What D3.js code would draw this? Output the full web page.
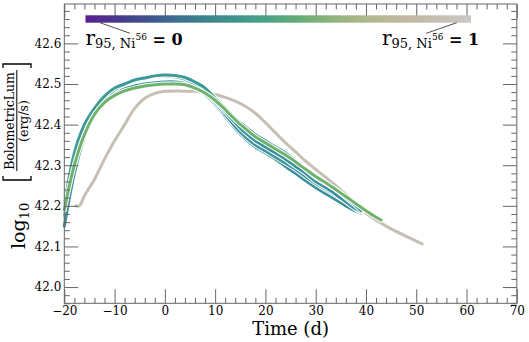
<!DOCTYPE html>
<html>
<head>
<meta charset="utf-8">
<script src="https://cdn.jsdelivr.net/npm/d3@7"></script>
<style>
  body { margin: 0; background: #fff; }
  svg { display: block; }
  text { font-family: "DejaVu Serif", serif; fill: #000; }
</style>
</head>
<body>
<svg id="chart" width="529" height="342"></svg>
<script>
// ---- data ----
const xTicks = [-20, -10, 0, 10, 20, 30, 40, 50, 60, 70];
const yTicks = [42.0, 42.1, 42.2, 42.3, 42.4, 42.5, 42.6];

const timeTeal = [-20, -18, -16, -14, -12, -10, -8, -6, -4, -2, 0, 2, 4, 6, 8, 10, 12, 14, 16, 18, 20,
                  22, 24, 26, 28, 30, 32, 34, 36, 38, 39];
const lumTealA = [42.20, 42.33, 42.40, 42.44, 42.47, 42.49, 42.50, 42.51, 42.515, 42.52, 42.522, 42.521,
                  42.516, 42.505, 42.49, 42.465, 42.44, 42.415, 42.395, 42.375, 42.36, 42.345, 42.33,
                  42.31, 42.29, 42.27, 42.255, 42.24, 42.22, 42.20, 42.188];
const lumTealB = [42.15, 42.28, 42.37, 42.43, 42.465, 42.485, 42.50, 42.51, 42.515, 42.52, 42.52, 42.518,
                  42.512, 42.50, 42.485, 42.46, 42.432, 42.405, 42.38, 42.36, 42.345, 42.33, 42.315,
                  42.297, 42.28, 42.26, 42.245, 42.228, 42.21, 42.192, 42.185];
const lumTealC = [42.17, 42.30, 42.38, 42.43, 42.46, 42.478, 42.488, 42.495, 42.50, 42.503, 42.505, 42.505,
                  42.502, 42.495, 42.48, 42.455, 42.425, 42.395, 42.37, 42.35, 42.335, 42.32, 42.305,
                  42.29, 42.272, 42.255, 42.24, 42.225, 42.21, 42.193, 42.185];
const lumTealD = [42.16, 42.29, 42.375, 42.425, 42.458, 42.476, 42.486, 42.493, 42.498, 42.50, 42.501, 42.50,
                  42.497, 42.49, 42.475, 42.45, 42.42, 42.39, 42.365, 42.345, 42.33, 42.315, 42.297,
                  42.28, 42.262, 42.245, 42.23, 42.215, 42.20, 42.187, 42.182];

const timeGreen = [-20, -18, -16, -14, -12, -10, -8, -6, -4, -2, 0, 2, 4, 6, 8, 10, 12, 14, 16, 18, 20,
                   22, 24, 26, 28, 30, 32, 34, 36, 38, 40, 42, 43];
const lumGreen = [42.19, 42.30, 42.375, 42.425, 42.455, 42.472, 42.483, 42.49, 42.495, 42.498, 42.50, 42.50,
                  42.498, 42.49, 42.478, 42.46, 42.437, 42.412, 42.39, 42.37, 42.355, 42.34, 42.325,
                  42.308, 42.29, 42.272, 42.257, 42.24, 42.223, 42.205, 42.188, 42.172, 42.165];

const timeGray = [-17.7, -17, -16, -15, -14, -13, -12, -11, -10, -8, -6, -4, -2, 0, 2, 4, 6, 8, 10, 12, 14,
                  16, 18, 20, 22, 24, 26, 28, 30, 32, 34, 36, 38, 40, 42, 44, 46, 48, 50, 51.2];
const lumGray = [42.20, 42.20, 42.225, 42.245, 42.265, 42.29, 42.315, 42.338, 42.36, 42.40, 42.44, 42.465,
                 42.477, 42.482, 42.483, 42.482, 42.482, 42.479, 42.474, 42.467, 42.458, 42.445, 42.428,
                 42.405, 42.38, 42.355, 42.333, 42.31, 42.29, 42.27, 42.25, 42.228, 42.205, 42.182,
                 42.165, 42.15, 42.137, 42.125, 42.113, 42.106];

// colour map of the r95 bar (purple -> teal -> green -> grey)
const cmapStops = ["#5b1e8e", "#463a8c", "#3e5a8e", "#3c7a8e", "#3e8f8c", "#47a088", "#62ab76",
                   "#8db47a", "#b0b88e", "#c0b8a0", "#c6bdb0", "#cbc8c6"];

const series = [
  { t: timeGray, v: lumGray, color: "#c6bfb3" },
  { t: timeTeal, v: lumTealD, color: "#3b8e9c" },
  { t: timeTeal, v: lumTealC, color: "#3c959b" },
  { t: timeTeal, v: lumTealB, color: "#3a8f9d" },
  { t: timeTeal, v: lumTealA, color: "#3d9a98" },
  { t: timeGreen, v: lumGreen, color: "#6fb26c" }
];

// ---- layout ----
const svg = d3.select("#chart");
const plotL = 64.3, plotR = 516.8, plotT = 4, plotB = 303.3;

const x = d3.scaleLinear().domain([-20, 70]).range([plotL, plotR]);
const y = d3.scaleLinear().domain([41.96, 42.697]).range([plotB, plotT]);

const axisColor = "#666";
const major = 14, minor = 5.5;
const xMinor = d3.range(-20, 70.01, 2).filter(d => d % 10 !== 0);
const yMinor = d3.range(41.96, 42.7, 0.02).map(d => +d.toFixed(2)).filter(d => Math.round(d * 100) % 10 !== 0);

const fmtX = d => d < 0 ? "\u2212" + Math.abs(d) : String(d);

function styleAxis(g) {
  g.select(".domain").remove();
  g.selectAll(".tick line").attr("stroke", axisColor).attr("stroke-width", 1);
  g.selectAll(".tick text").style("font-family", "DejaVu Serif").style("font-size", "12px").attr("fill", "#000");
}

// curves with a white halo
const line = d3.line().x(d => x(d[0])).y(d => y(d[1])).curve(d3.curveCatmullRom.alpha(0.5));
const curves = svg.append("g");
series.forEach(s => {
  const pts = s.t.map((t, i) => [t, s.v[i]]);
  curves.append("path").attr("d", line(pts)).attr("fill", "none")
    .attr("stroke", "#fff").attr("stroke-width", 5).attr("stroke-linejoin", "round").attr("stroke-linecap", "round");
  curves.append("path").attr("d", line(pts)).attr("fill", "none")
    .attr("stroke", s.color).attr("stroke-width", 3).attr("stroke-linejoin", "round").attr("stroke-linecap", "round");
});

// bottom axis
svg.append("g").attr("transform", `translate(0,${plotB})`)
  .call(d3.axisBottom(x).tickValues(xTicks).tickSizeInner(-major).tickSizeOuter(0).tickPadding(3).tickFormat(fmtX))
  .call(styleAxis);
svg.append("g").attr("transform", `translate(0,${plotB})`)
  .call(d3.axisBottom(x).tickValues(xMinor).tickSizeInner(-minor).tickSizeOuter(0).tickFormat(""))
  .call(styleAxis);
// top axis
svg.append("g").attr("transform", `translate(0,${plotT})`)
  .call(d3.axisTop(x).tickValues(xTicks).tickSizeInner(-major).tickSizeOuter(0).tickFormat(""))
  .call(styleAxis);
svg.append("g").attr("transform", `translate(0,${plotT})`)
  .call(d3.axisTop(x).tickValues(xMinor).tickSizeInner(-minor).tickSizeOuter(0).tickFormat(""))
  .call(styleAxis);
// left axis
svg.append("g").attr("transform", `translate(${plotL},0)`)
  .call(d3.axisLeft(y).tickValues(yTicks).tickSizeInner(-major).tickSizeOuter(0).tickPadding(3).tickFormat(d3.format(".1f")))
  .call(styleAxis);
svg.append("g").attr("transform", `translate(${plotL},0)`)
  .call(d3.axisLeft(y).tickValues(yMinor).tickSizeInner(-minor).tickSizeOuter(0).tickFormat(""))
  .call(styleAxis);
// right axis
svg.append("g").attr("transform", `translate(${plotR},0)`)
  .call(d3.axisRight(y).tickValues(yTicks).tickSizeInner(-major).tickSizeOuter(0).tickFormat(""))
  .call(styleAxis);
svg.append("g").attr("transform", `translate(${plotR},0)`)
  .call(d3.axisRight(y).tickValues(yMinor).tickSizeInner(-minor).tickSizeOuter(0).tickFormat(""))
  .call(styleAxis);

// frame
svg.append("rect").attr("x", plotL).attr("y", plotT).attr("width", plotR - plotL).attr("height", plotB - plotT)
  .attr("fill", "none").attr("stroke", axisColor).attr("stroke-width", 1);

// colour bar
const cb = d3.scaleLinear().domain([0, 1]).range([85.5, 471]);
const grad = svg.append("defs").append("linearGradient").attr("id", "cmap");
cmapStops.forEach((c, i) => {
  grad.append("stop").attr("offset", (i / (cmapStops.length - 1) * 100) + "%").attr("stop-color", c);
});
svg.append("rect").attr("x", cb(0)).attr("y", 15.3).attr("width", cb(1) - cb(0)).attr("height", 7.4)
  .attr("fill", "url(#cmap)");

// colour bar labels
function rLabel(x0, val) {
  const t = svg.append("text").attr("x", x0).attr("y", 45);
  t.append("tspan").style("font-size", "20px").text("r");
  t.append("tspan").style("font-size", "13px").attr("dy", 3).text("95, Ni");
  t.append("tspan").style("font-size", "9px").attr("dy", -8).text("56");
  t.append("tspan").style("font-size", "16px").style("font-weight", "bold").attr("dy", 5).text(" = " + val);
}
rLabel(85.5, "0");
rLabel(382, "1");
svg.append("line").attr("x1", 100).attr("y1", 22.7).attr("x2", 130).attr("y2", 33.3).attr("stroke", "#222").attr("stroke-width", 0.8);
svg.append("line").attr("x1", 456.7).attr("y1", 22.7).attr("x2", 426.3).attr("y2", 33.3).attr("stroke", "#222").attr("stroke-width", 0.8);

// x label
svg.append("text").attr("x", (plotL + plotR) / 2).attr("y", 335).attr("text-anchor", "middle")
  .style("font-size", "18px").text("Time (d)");

// y label (rotated)
const yl = svg.append("g").attr("transform", "rotate(-90)");
const lg = yl.append("text").attr("x", -249).attr("y", 25);
lg.append("tspan").style("font-size", "19px").text("log");
lg.append("tspan").style("font-size", "13px").attr("dy", 4).text("10");
yl.append("text").attr("x", -121).attr("y", 14).attr("text-anchor", "middle").style("font-size", "12.5px").text("BolometricLum");
yl.append("text").attr("x", -121).attr("y", 28).attr("text-anchor", "middle").style("font-size", "12.5px").text("(erg/s)");
yl.append("line").attr("x1", -171).attr("x2", -70).attr("y1", 16.8).attr("y2", 16.8).attr("stroke", "#000").attr("stroke-width", 1);
yl.append("path").attr("d", "M-176,3 H-180 V31 H-176").attr("fill", "none").attr("stroke", "#000").attr("stroke-width", 1.3);
yl.append("path").attr("d", "M-68,3 H-64 V31 H-68").attr("fill", "none").attr("stroke", "#000").attr("stroke-width", 1.3);
</script>
</body>
</html>
